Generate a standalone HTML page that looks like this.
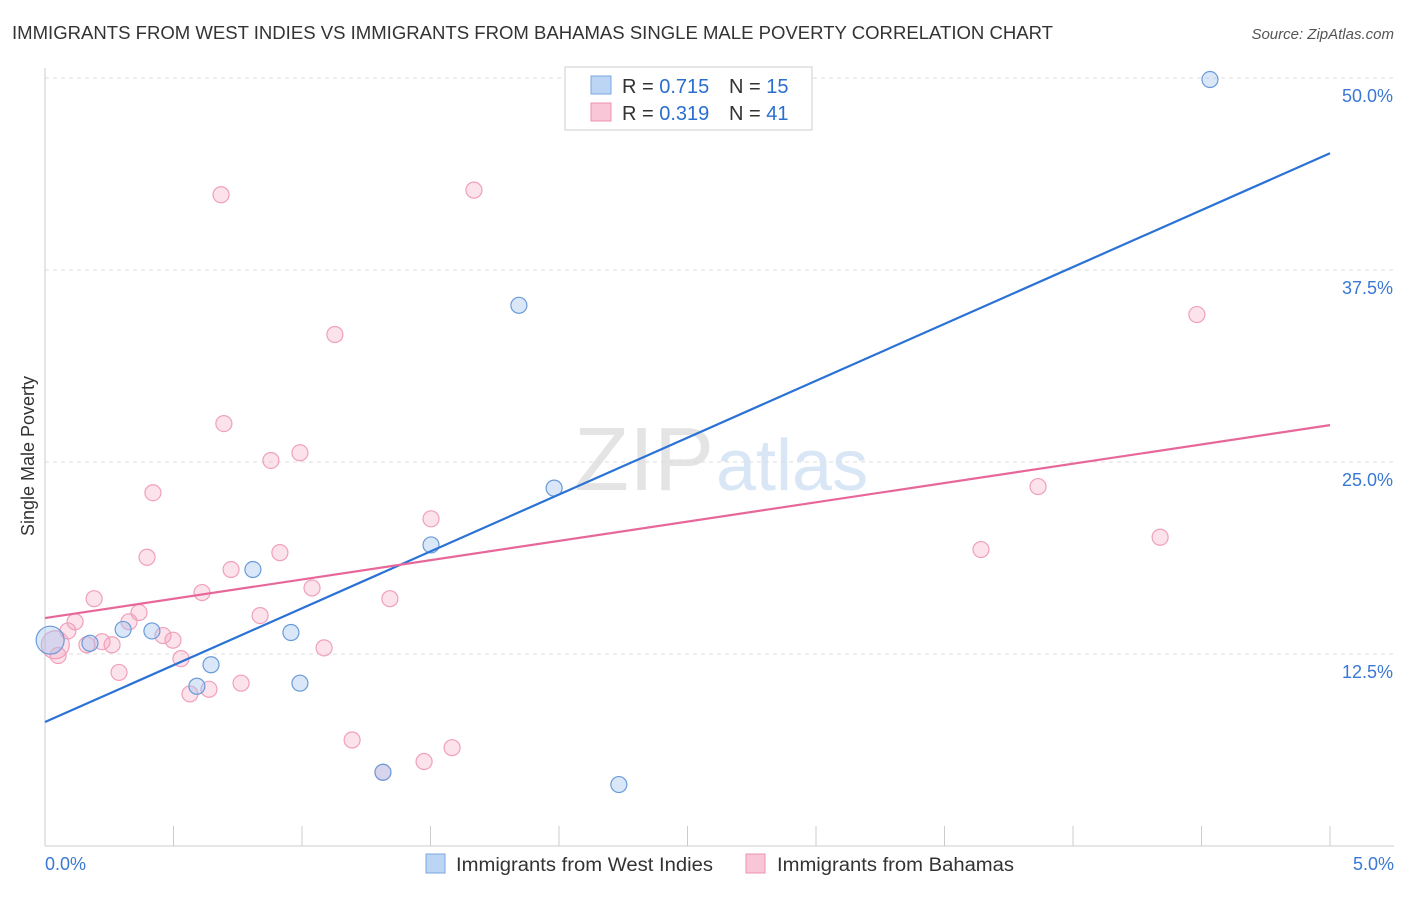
<!DOCTYPE html>
<html><head><meta charset="utf-8"><style>
body{margin:0;background:#fff;font-family:"Liberation Sans",sans-serif;}
svg text{font-family:"Liberation Sans",sans-serif;}
</style></head><body>
<svg id="c" width="1406" height="892" xmlns="http://www.w3.org/2000/svg">
<text x="12" y="39" font-size="18" fill="#333" textLength="1041" lengthAdjust="spacingAndGlyphs">IMMIGRANTS FROM WEST INDIES VS IMMIGRANTS FROM BAHAMAS SINGLE MALE POVERTY CORRELATION CHART</text>
<text x="1394" y="39" font-size="15" fill="#555" font-style="italic" text-anchor="end">Source: ZipAtlas.com</text>
<text x="714" y="490" font-size="90" fill="#e4e4e4" text-anchor="end" font-family="Liberation Serif">ZIP</text>
<text x="716" y="490" font-size="72" fill="#d8e6f6">atlas</text>
<text x="34" y="456" font-size="18" fill="#333" text-anchor="middle" transform="rotate(-90 34 456)">Single Male Poverty</text>
<g id="grid"></g><g id="axes"></g><g id="pts"></g><g id="lines"></g>
<g>
<rect x="565" y="67" width="247" height="63" fill="#fff" stroke="#ccc"/>
<rect x="591" y="76" width="20" height="18" fill="#bcd5f5" stroke="#7aa7e0"/>
<text x="622" y="93" font-size="20" fill="#333">R = <tspan fill="#2a6fd0">0.715</tspan></text>
<text x="729" y="93" font-size="20" fill="#333">N = <tspan fill="#2a6fd0">15</tspan></text>
<rect x="591" y="103" width="20" height="18" fill="#f8c6d6" stroke="#ee92b0"/>
<text x="622" y="120" font-size="20" fill="#333">R = <tspan fill="#2a6fd0">0.319</tspan></text>
<text x="729" y="120" font-size="20" fill="#333">N = <tspan fill="#2a6fd0">41</tspan></text>
</g>
<g>
<rect x="426" y="854" width="19" height="19" fill="#bcd5f5" stroke="#7aa7e0"/>
<text x="456" y="871" font-size="19" fill="#333" textLength="257" lengthAdjust="spacingAndGlyphs">Immigrants from West Indies</text>
<rect x="746" y="854" width="19" height="19" fill="#f8c6d6" stroke="#ee92b0"/>
<text x="777" y="871" font-size="19" fill="#333" textLength="237" lengthAdjust="spacingAndGlyphs">Immigrants from Bahamas</text>
</g>
</svg>
<script>
const yTicks=[12.5,25,37.5,50];
const yTickLabels=["12.5%","25.0%","37.5%","50.0%"];
const xTickLabels=["0.0%","5.0%"];
const wiX=[4.533,1.844,1.981,1.502,0.809,0.304,0.416,0.175,0.957,0.646,0.591,0.992,1.315,2.233,0.02];
const wiY=[49.9,35.2,23.3,19.6,18.0,14.1,14.0,13.2,13.9,11.8,10.4,10.6,4.8,4.0,13.4];
const bhX=[0.685,1.669,1.128,4.482,0.696,0.879,0.992,0.420,3.864,1.502,0.397,0.914,3.642,4.339,0.724,1.039,0.611,0.191,1.342,0.366,0.837,0.117,0.327,0.089,0.459,0.498,0.222,0.261,0.163,1.086,0.529,0.051,0.288,0.763,0.564,0.638,1.195,1.315,1.475,1.584,0.04];
const bhY=[42.4,42.7,33.3,34.6,27.5,25.1,25.6,23.0,23.4,21.3,18.8,19.1,19.3,20.1,18.0,16.8,16.5,16.1,16.1,15.2,15.0,14.6,14.6,14.0,13.7,13.4,13.3,13.1,13.1,12.9,12.2,12.4,11.3,10.6,9.9,10.2,6.9,4.8,5.5,6.4,13.1];
const wiLine=[8.07,45.1];
const bhLine=[14.84,27.4];
const NS="http://www.w3.org/2000/svg";
const X=v=>45+v/5*1285, Y=v=>846-v/12.5*192;
function mk(t,a,p){const e=document.createElementNS(NS,t);for(const k in a)e.setAttribute(k,a[k]);document.getElementById(p).appendChild(e);return e;}
yTicks.forEach((t,i)=>{
 const g=mk('line',{x1:45,x2:1394,y1:Y(t),y2:Y(t),stroke:'#ddd','stroke-dasharray':'4 4'},'grid');
 
 
 const l=mk('text',{x:1393,y:Y(t)+24,'font-size':18,fill:'#3a78d4','text-anchor':'end'},'axes');
 l.textContent=yTickLabels[i];
 
 
});
mk('line',{x1:45,x2:45,y1:68,y2:846,stroke:'#ccc'},'axes');
mk('line',{x1:45,x2:1394,y1:846,y2:846,stroke:'#ccc'},'axes');
for(let i=0;i<=10;i++){const x=45+i*128.5;mk('line',{x1:x,x2:x,y1:826,y2:846,stroke:'#ccc'},'axes');}
[[0,'start',45],[5,'end',1394]].forEach((d,i)=>{
 const t=mk('text',{x:d[2],y:870,'font-size':18,fill:'#3a78d4','text-anchor':d[1]},'axes');
 t.textContent=xTickLabels[i];
 
 
});
bhX.forEach((v,i)=>{
 const r=i==bhX.length-1?14:8;
 const c=mk('circle',{cx:X(v),cy:Y(bhY[i]),r:r,fill:'rgba(245,160,190,0.3)',stroke:'#f0a0bb','stroke-width':1.2},'pts');
 
 
});
wiX.forEach((v,i)=>{
 const r=i==wiX.length-1?14:8;
 const c=mk('circle',{cx:X(v),cy:Y(wiY[i]),r:r,fill:'rgba(160,195,240,0.4)',stroke:'#6a9bd8','stroke-width':1.2},'pts');
 
 
});
const l1=mk('line',{x1:X(0),y1:Y(wiLine[0]),x2:X(5),y2:Y(wiLine[1]),stroke:'#2a72d5','stroke-width':2.2},'lines');


const l2=mk('line',{x1:X(0),y1:Y(bhLine[0]),x2:X(5),y2:Y(bhLine[1]),stroke:'#e8679a','stroke-width':2.2},'lines');


</script>
</body></html>
